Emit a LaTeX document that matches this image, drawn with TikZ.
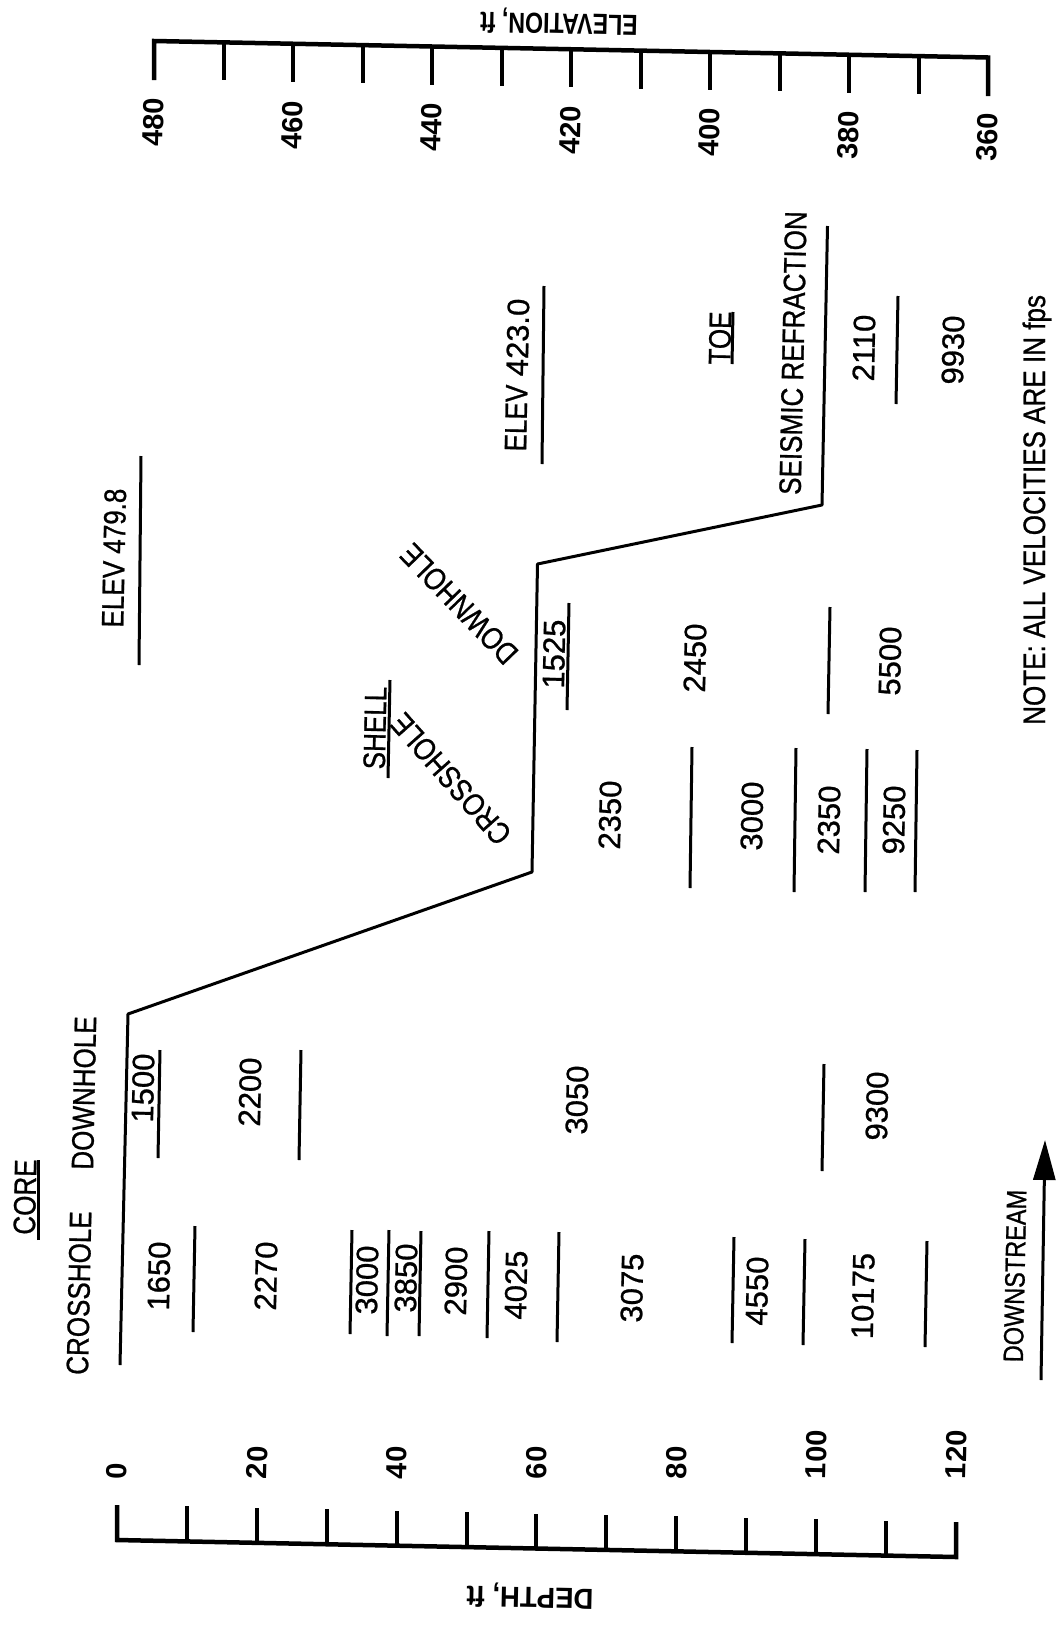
\documentclass[tikz,border=0pt]{standalone}
\usepackage{fontspec}
\setmainfont{Liberation Sans}
\newfontfamily\nfnt{Liberation Sans}[FakeBold=0.8]
\newfontfamily\wfnt{Liberation Sans}[FakeStretch=0.84, FakeBold=0.8]
\newfontfamily\bfnt{Liberation Sans Bold}
\usetikzlibrary{arrows.meta}
\tikzset{
  fn/.style={inner sep=0pt, font=\nfnt\fontsize{31}{31}\selectfont},
  fw/.style={inner sep=0pt, font=\wfnt\fontsize{31}{31}\selectfont},
  fb/.style={inner sep=0pt, font=\bfnt\fontsize{29}{29}\selectfont},
  vert/.style={rotate=88.8},
  lyr/.style={line width=3pt},
  prof/.style={line width=3pt, line join=round},
  axisln/.style={line width=4.5pt, line join=miter},
  tickln/.style={line width=4pt},
}
\begin{document}
\begin{tikzpicture}[x=1pt, y=-1pt]
\useasboundingbox (0,0) rectangle (1055,1625);
\fill[white] (0,0) rectangle (1055,1625);

% ---------- top elevation axis ----------
\coordinate (tl) at (154,41);
\coordinate (tr) at (988,57.5);
\draw[axisln] (154,80) -- (tl) -- (tr) -- (988,96);
\foreach \i in {1,...,11}{
  \pgfmathsetmacro\xx{154+69.5*\i}
  \pgfmathsetmacro\yy{41+1.375*\i}
  \draw[tickln] (\xx,\yy) -- (\xx,\yy+38);
}
\foreach \v [count=\k from 0] in {480,460,440,420,400,380,360}{
  \pgfmathsetmacro\xx{154+139*\k}
  \pgfmathsetmacro\yy{98+2.5*\k}
  \node[fb, vert, anchor=east] (el\k) at (\xx,\yy) {\v};
}
\node[fb, rotate=178.8] (eltitle) at (559,22) {\scalebox{0.8}[1]{ELEVATION, ft}};

% ---------- bottom depth axis ----------
\coordinate (bl) at (117,1540);
\coordinate (br) at (956,1557);
\draw[axisln] (117,1505) -- (bl) -- (br) -- (956,1522);
\foreach \i in {1,...,11}{
  \pgfmathsetmacro\xx{117+69.9*\i}
  \pgfmathsetmacro\yy{1540+1.42*\i}
  \draw[tickln] (\xx,\yy) -- (\xx,\yy-35);
}
\foreach \v [count=\k from 0] in {0,20,40,60,80,100,120}{
  \pgfmathsetmacro\xx{117+139.8*\k}
  \node[fb, vert, anchor=west] (dp\k) at (\xx,1479) {\v};
}
\node[fb, rotate=178.8] (dptitle) at (530,1596) {\scalebox{0.95}[1]{DEPTH, ft}};

% ---------- profile ----------
\coordinate (p1) at (120,1365);
\coordinate (p2) at (128,1014);
\coordinate (p3) at (532,872);
\coordinate (p4) at (537.5,564);
\coordinate (p5) at (822,505);
\coordinate (p6) at (827.5,226);
\draw[prof] (p1) -- (p2) -- (p3) -- (p4) -- (p5) -- (p6);

% ---------- core ----------
\node[fw, vert] (core) at (25,1197) {CORE};
\draw[lyr] (38,1240) -- (38,1160);
\node[fw, vert] (corech) at (79,1293) {CROSSHOLE};
\node[fw, vert] (coredh) at (84,1093) {DOWNHOLE};

% core downhole column
\node[fn, vert] (v1500) at (143,1088) {1500};
\draw[lyr] (158,1158) -- (160,1050);
\node[fn, vert] (v2200) at (250,1092) {2200};
\draw[lyr] (299,1160) -- (301,1050);
\node[fn, vert] (v3050) at (577,1100) {3050};
\draw[lyr] (822,1171) -- (824,1064);
\node[fn, vert] (v9300) at (877,1106) {9300};

% core crosshole column
\node[fn, vert] (v1650) at (159,1276) {1650};
\draw[lyr] (193,1332) -- (195,1226);
\node[fn, vert] (v2270) at (266,1276) {2270};
\draw[lyr] (350,1334) -- (352,1230);
\node[fn, vert] (v3000a) at (367,1280) {3000};
\draw[lyr] (387,1336) -- (389,1230);
\node[fn, vert] (v3850) at (406,1278) {3850};
\draw[lyr] (419,1336) -- (421,1231);
\node[fn, vert] (v2900) at (456,1281) {2900};
\draw[lyr] (487,1338) -- (489,1231);
\node[fn, vert] (v4025) at (516,1285) {4025};
\draw[lyr] (557,1342) -- (559,1232);
\node[fn, vert] (v3075) at (632,1288) {3075};
\draw[lyr] (732,1343) -- (734,1237);
\node[fn, vert] (v4550) at (757,1291) {4550};
\draw[lyr] (803,1345) -- (805,1239);
\node[fn, vert] (v10175) at (863,1296) {10175};
\draw[lyr] (925,1347) -- (927,1241);

% ---------- shell ----------
\node[fw, vert] (elev1) at (114,558) {ELEV 479.8};
\draw[lyr] (139,665) -- (141,456);
\node[fw, vert] (shell) at (375,728) {SHELL};
\draw[lyr] (388,778) -- (390,680);
\node[fw, rotate=131.5] (shch) at (451,779) {CROSSHOLE};
\node[fw, rotate=134] (shdh) at (459,604) {DOWNHOLE};

% shell downhole
\node[fn, vert] (v1525) at (554,654) {1525};
\draw[lyr] (567,710) -- (569,603);
\node[fn, vert] (v2450) at (695,658) {2450};
\draw[lyr] (828,714) -- (830,607);
\node[fn, vert] (v5500) at (890,661) {5500};

% shell crosshole
\node[fn, vert] (v2350a) at (610,815) {2350};
\draw[lyr] (690,888) -- (692,747);
\node[fn, vert] (v3000b) at (752,816) {3000};
\draw[lyr] (794,892) -- (796,748);
\node[fn, vert] (v2350b) at (829,820) {2350};
\draw[lyr] (865,892) -- (867,749);
\node[fn, vert] (v9250) at (894,820) {9250};
\draw[lyr] (915,892) -- (917,750);

% ---------- toe ----------
\node[fn, vert] (elev2) at (517,375) {{\wfnt ELEV} 423.0};
\draw[lyr] (542,464) -- (544,286);
\node[fw, vert] (toe) at (720,338) {TOE};
\draw[lyr] (732,364) -- (733,312);
\node[fw, vert] (seis) at (793,353) {SEISMIC REFRACTION};
\node[fn, vert] (v2110) at (864,348) {2110};
\draw[lyr] (896,404) -- (898,296);
\node[fn, vert] (v9930) at (953,350) {9930};

% ---------- note and arrow ----------
\node[fw, rotate=90, anchor=base west] (note) at (1045,725) {NOTE: ALL VELOCITIES ARE IN fps};
\node[inner sep=0pt, font=\wfnt\fontsize{28}{28}\selectfont, vert] (dstream) at (1015,1276) {DOWNSTREAM};
\coordinate (a1) at (1041,1380);
\coordinate (a2) at (1045,1140);
\draw[line width=3pt, -{Triangle[length=40pt,width=22pt]}] (a1) -- (a2);
\end{tikzpicture}
\end{document}
